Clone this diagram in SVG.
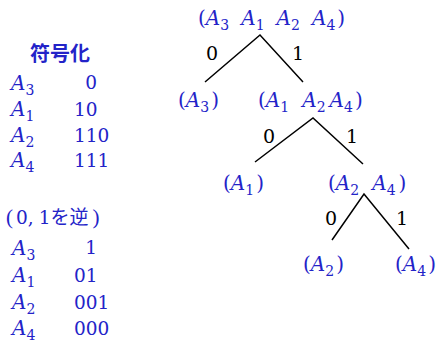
<svg xmlns="http://www.w3.org/2000/svg" width="441" height="344" viewBox="0 0 441 344">
<style>
.b{fill:#2323c8;font-family:"DejaVu Serif",serif;font-size:20px}
.d{font-size:18.5px}
.j{font-family:"Noto Sans CJK JP",sans-serif}
.k{fill:#000;font-family:"DejaVu Serif",serif;font-size:19px}
.i{font-style:italic}
.s{font-size:14px;font-style:normal}
.e{stroke:#000;stroke-width:1.5;fill:none}
</style>
<rect width="441" height="344" fill="#fff"/>
<g id="table1">
<text class="b j" x="30" y="61" font-size="21" font-weight="bold">符号化</text>
<text class="b" x="11" y="90"><tspan class="i">A</tspan><tspan class="s" dy="5">3</tspan></text>
<text class="b d" x="97" y="89" text-anchor="end">0</text>
<text class="b" x="11" y="116"><tspan class="i">A</tspan><tspan class="s" dy="5">1</tspan></text>
<text class="b d" x="74" y="116">10</text>
<text class="b" x="11" y="142"><tspan class="i">A</tspan><tspan class="s" dy="5">2</tspan></text>
<text class="b d" x="74" y="142">110</text>
<text class="b" x="11" y="167"><tspan class="i">A</tspan><tspan class="s" dy="5">4</tspan></text>
<text class="b d" x="74" y="167">111</text>
</g>
<g id="table2">
<text class="b" x="6" y="224"><tspan font-family="Liberation Serif" font-size="21">(</tspan><tspan class="d" dx="3">0,</tspan><tspan class="d" dx="5">1</tspan><tspan class="j" font-size="19">を逆</tspan><tspan dx="4" font-family="Liberation Serif" font-size="21">)</tspan></text>
<text class="b" x="12" y="255"><tspan class="i">A</tspan><tspan class="s" dy="5">3</tspan></text>
<text class="b d" x="97" y="254" text-anchor="end">1</text>
<text class="b" x="12" y="282"><tspan class="i">A</tspan><tspan class="s" dy="5">1</tspan></text>
<text class="b d" x="74" y="282">01</text>
<text class="b" x="12" y="309"><tspan class="i">A</tspan><tspan class="s" dy="5">2</tspan></text>
<text class="b d" x="74" y="309">001</text>
<text class="b" x="12" y="335"><tspan class="i">A</tspan><tspan class="s" dy="5">4</tspan></text>
<text class="b d" x="74" y="335">000</text>
</g>
<g id="edges">
<path class="e" d="M205,82 L260,35 L303,82"/>
<path class="e" d="M255,162 L313,118 L363,164"/>
<path class="e" d="M332,240 L364,194 L409,249"/>
<text class="k" x="212" y="60" text-anchor="middle">0</text>
<text class="k" x="298" y="60" text-anchor="middle">1</text>
<text class="k" x="269" y="143" text-anchor="middle">0</text>
<text class="k" x="352" y="143" text-anchor="middle">1</text>
<text class="k" x="331" y="225" text-anchor="middle">0</text>
<text class="k" x="402" y="225" text-anchor="middle">1</text>
</g>
<g id="n-root"><text class="b" x="198" y="25">(<tspan class="i">A</tspan><tspan class="s" dy="5">3</tspan><tspan class="i" dx="12" dy="-5">A</tspan><tspan class="s" dy="5">1</tspan><tspan class="i" dx="12" dy="-5">A</tspan><tspan class="s" dy="5">2</tspan><tspan class="i" dx="12" dy="-5">A</tspan><tspan class="s" dy="5">4</tspan><tspan dx="2" dy="-5">)</tspan></text></g>
<g id="n-a3"><text class="b" x="178" y="107">(<tspan class="i">A</tspan><tspan class="s" dy="5">3</tspan><tspan dx="2" dy="-5">)</tspan></text></g>
<g id="n-a1a2a4"><text class="b" x="258" y="107">(<tspan class="i">A</tspan><tspan class="s" dy="5">1</tspan><tspan class="i" dx="13" dy="-5">A</tspan><tspan class="s" dy="5">2</tspan><tspan class="i" dx="4" dy="-5">A</tspan><tspan class="s" dy="5">4</tspan><tspan dx="2" dy="-5">)</tspan></text></g>
<g id="n-a1"><text class="b" x="223" y="190">(<tspan class="i">A</tspan><tspan class="s" dy="5">1</tspan><tspan dx="2" dy="-5">)</tspan></text></g>
<g id="n-a2a4"><text class="b" x="328" y="190">(<tspan class="i">A</tspan><tspan class="s" dy="5">2</tspan><tspan class="i" dx="13" dy="-5">A</tspan><tspan class="s" dy="5">4</tspan><tspan dx="3" dy="-5">)</tspan></text></g>
<g id="n-a2"><text class="b" x="303" y="271">(<tspan class="i">A</tspan><tspan class="s" dy="5">2</tspan><tspan dx="2" dy="-5">)</tspan></text></g>
<g id="n-a4"><text class="b" x="395" y="271">(<tspan class="i">A</tspan><tspan class="s" dy="5">4</tspan><tspan dx="2" dy="-5">)</tspan></text></g>
</svg>
